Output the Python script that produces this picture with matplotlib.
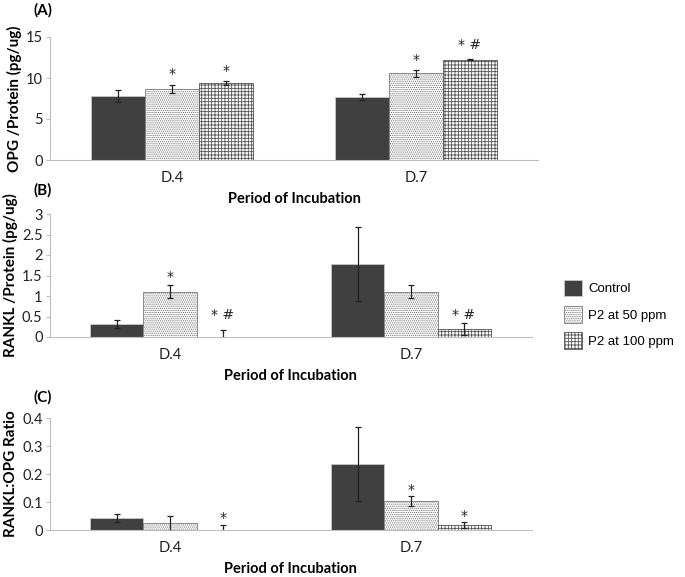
import numpy as np
import matplotlib.pyplot as plt
from matplotlib.patches import Patch

plt.rcParams['font.family'] = ['Lato', 'DejaVu Sans']
plt.rcParams['hatch.linewidth'] = 0.6

periods = ['D.4', 'D.7']
groups = ['Control', 'P2 at 50 ppm', 'P2 at 100 ppm']

# (A) OPG / protein
opg = [[7.8, 7.7], [8.65, 10.55], [9.35, 12.25]]
opg_err = [[0.7, 0.35], [0.5, 0.4], [0.25, 0.1]]
# (B) RANKL / protein
rankl = [[0.31, 1.79], [1.1, 1.1], [0.0, 0.2]]
rankl_err = [[0.1, 0.9], [0.16, 0.16], [0.17, 0.14]]
# (C) RANKL:OPG ratio
ratio = [[0.042, 0.235], [0.024, 0.104], [0.0, 0.018]]
ratio_err = [[0.014, 0.133], [0.027, 0.017], [0.018, 0.012]]

# significance marks: (group, period, y, text)
marks_a = [(1, 0, 10.5, '*'), (2, 0, 10.9, '*'), (1, 1, 12.2, '*'), (2, 1, 14.0, '* #')]
marks_b = [(1, 0, 1.47, '*'), (2, 0, 0.53, '* #'), (2, 1, 0.53, '* #')]
marks_c = [(2, 0, 0.043, '*'), (1, 1, 0.143, '*'), (2, 1, 0.051, '*')]

fills = ['#404040', 'white', 'white']
hatches = [None, '........', '+++++']
hcolors = ['#c8c8c8', '#7a7a7a', '#555555']

W, H = 685, 577
fig = plt.figure(figsize=(W / 100, H / 100), dpi=100)


def px_axes(x0, x1, ytop, ybot):
    return fig.add_axes([x0 / W, 1 - ybot / H, (x1 - x0) / W, (ybot - ytop) / H])


def panel(ax, vals, errs, marks, ymax, step, ylabel, ysize):
    x = np.arange(len(periods))
    bw = 0.22
    for i in range(3):
        ax.bar(x + (i - 1) * bw, vals[i], bw, color=fills[i], edgecolor=hcolors[i],
               hatch=hatches[i], linewidth=0.6, zorder=2)
        ax.errorbar(x + (i - 1) * bw, vals[i], yerr=errs[i], fmt='none',
                    ecolor='#222222', elinewidth=0.9, capsize=2.5, capthick=0.9, zorder=3)
    for g, p, y, t in marks:
        ax.text(p + (g - 1) * bw, y, t, ha='center', va='center', fontsize=10,
                color='#222222', family=['DejaVu Sans'])
    ax.set_xlim(-0.5, 1.5)
    ax.set_ylim(0, ymax)
    ticks = np.arange(0, ymax + step / 2, step)
    ax.set_yticks(ticks)
    ax.set_yticklabels([f'{t:g}' for t in ticks])
    ax.set_xticks(x)
    ax.set_xticklabels(periods)
    for s in ['top', 'right']:
        ax.spines[s].set_visible(False)
    for s in ['left', 'bottom']:
        ax.spines[s].set_color('#bfbfbf')
    ax.tick_params(axis='y', length=3, color='#bfbfbf', labelsize=10.5, labelcolor='#222222', pad=2)
    ax.tick_params(axis='x', length=0, labelsize=10.5, labelcolor='#222222', pad=8)
    ax.set_ylabel(ylabel, fontsize=ysize, fontweight='bold', labelpad=3)
    ax.set_xlabel('Period of Incubation', fontsize=10.5, fontweight='bold', labelpad=5)


ax_a = px_axes(50, 538, 37, 160)
panel(ax_a, opg, opg_err, marks_a, 15, 5, 'OPG /Protein (pg/ug)', 11)
ax_b = px_axes(49.5, 531.5, 214, 337)
panel(ax_b, rankl, rankl_err, marks_b, 3, 0.5, 'RANKL /Protein (pg/ug)', 11)
ax_c = px_axes(49.5, 531.5, 418, 530)
panel(ax_c, ratio, ratio_err, marks_c, 0.4, 0.1, 'RANKL:OPG Ratio', 11)

fig.text(33 / W, 1 - 10 / H, '(A)', fontsize=11, fontweight='bold', va='center')
fig.text(33 / W, 1 - 190 / H, '(B)', fontsize=11, fontweight='bold', va='center')
fig.text(33 / W, 1 - 397 / H, '(C)', fontsize=11, fontweight='bold', va='center')

handles = [Patch(facecolor=fills[i], edgecolor=hcolors[i], hatch=hatches[i], linewidth=0.6)
           for i in range(3)]
fig.legend(handles, groups, loc='upper left', bbox_to_anchor=(561 / W, 1 - 277 / H),
           frameon=False, prop={'family': 'Liberation Sans', 'size': 9.5},
           handlelength=1.4, handleheight=1.55, handletextpad=0.45, labelspacing=0.75,
           borderaxespad=0, borderpad=0.2)

fig.savefig('out.png', dpi=100)
